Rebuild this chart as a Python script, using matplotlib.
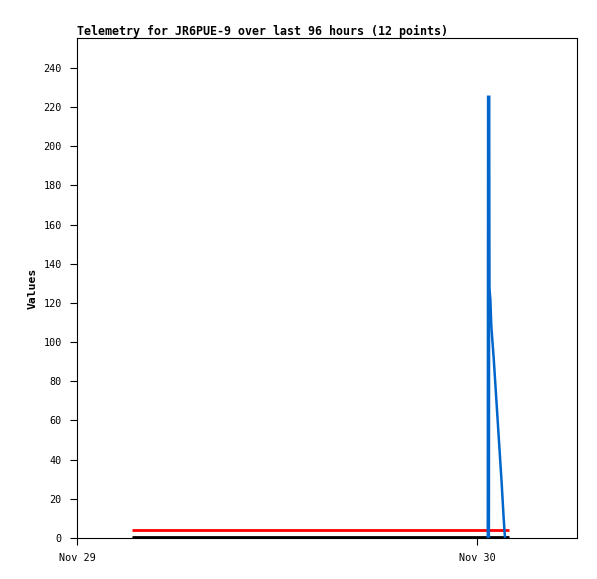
import matplotlib
matplotlib.use("Agg")
import matplotlib.pyplot as plt
import numpy as np

# hours since Nov 29 00:00
blue_hours = [24.68, 24.70, 24.74, 24.80, 24.86, 25.00, 25.12, 25.24, 25.36, 25.48, 25.60, 25.68]
blue_vals = [0, 225, 128, 122, 108, 92, 76, 60, 44, 28, 10, 0]

red_hours = [3.3, 25.92]
red_vals = [4, 4]

black_hours = [3.3, 25.92]
black_vals = [0.3, 0.3]

tick_hours = [0, 24]
tick_labels = ["Nov 29", "Nov 30"]

plt.rcParams['font.family'] = 'DejaVu Sans Mono'

fig = plt.figure(figsize=(5.97, 5.79), dpi=100)
ax = fig.add_axes([77/597, 41/579, 500/597, 500/579])

ax.plot(black_hours, black_vals, color='black', lw=2, solid_capstyle='butt')
ax.plot(red_hours, red_vals, color='#ff0000', lw=2, solid_capstyle='butt')
ax.plot(blue_hours[:2], blue_vals[:2], color='#0066cc', lw=2.6)
ax.plot(blue_hours, blue_vals, color='#0066cc', lw=1.8)

ax.set_xlim(0, 30)
ax.set_ylim(0, 255.3)
ax.set_yticks(np.arange(0, 241, 20))
ax.set_xticks(tick_hours)
ax.set_xticklabels(tick_labels)
ax.tick_params(labelsize=7.3, length=5, width=0.8, direction='out', pad=6)
for s in ax.spines.values():
    s.set_linewidth(0.8)

ax.set_ylabel("Values", fontsize=8.2, fontweight='bold', labelpad=4)
ax.set_title("Telemetry for JR6PUE-9 over last 96 hours (12 points)",
             fontsize=8.35, fontweight='bold', loc='left', pad=2)

fig.savefig("out.png", dpi=100)
